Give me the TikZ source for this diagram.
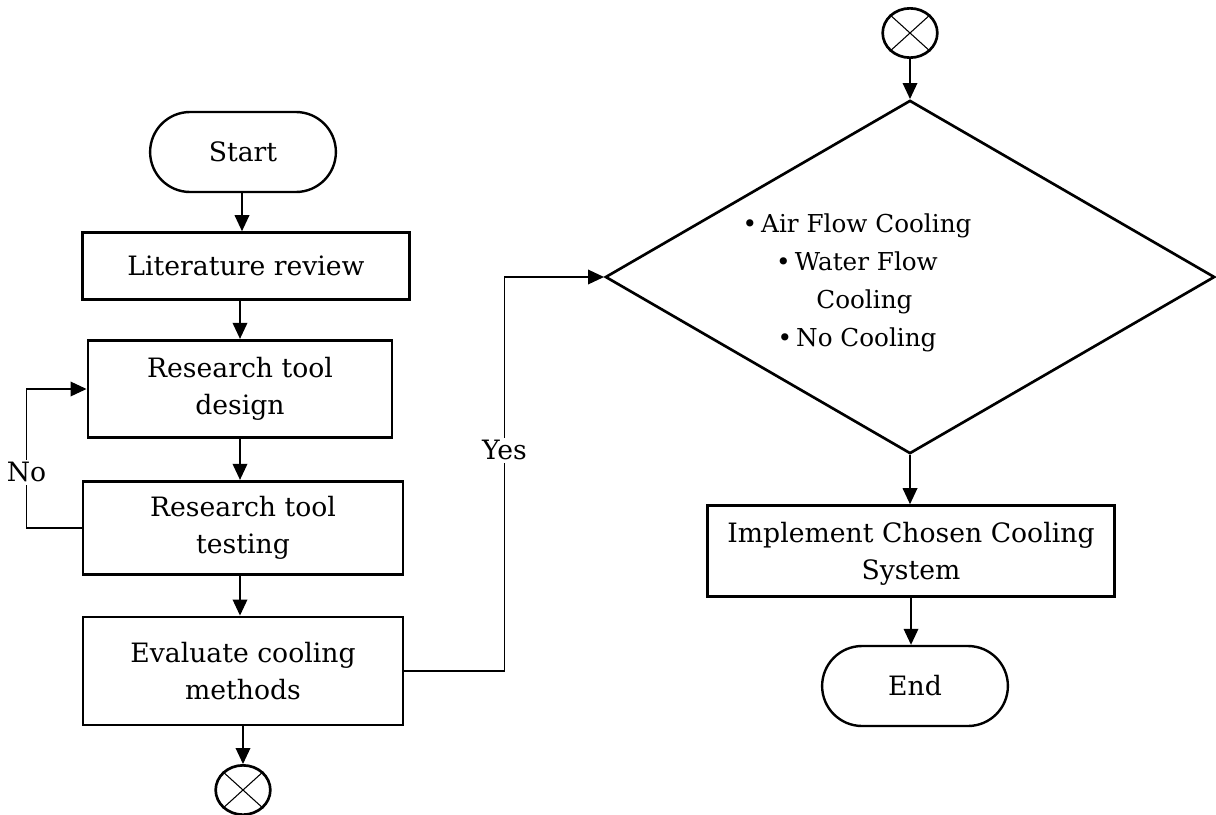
\documentclass[tikz,border=0pt]{standalone}
\usepackage{fontspec}
\setmainfont{DejaVu Serif}
\usetikzlibrary{shapes.geometric,shapes.misc,arrows.meta}
\begin{document}
\begin{tikzpicture}[x=0.75pt, y=-0.75pt,
    every node/.style={font=\fontsize{20}{28}\selectfont},
    box/.style={draw, rectangle, line width=2.2pt, align=center, inner sep=0pt},
    term/.style={draw, rounded rectangle, line width=1.8pt, minimum width=146pt, minimum height=60pt},
    offpage/.style={draw, ellipse, line width=2pt, minimum width=41pt, minimum height=37pt, inner sep=0pt},
    flow/.style={line width=1pt, -{Triangle[length=12pt,width=11pt]}}]
\useasboundingbox (0,0) rectangle (1216,814);

\node[term] (start) at (243,152) {Start};
\node[box, minimum width=245pt, minimum height=50pt] (litrev) at (246,266) {Literature review};
\node[box, minimum width=228pt, minimum height=73pt] (tooldesign) at (240,389) {Research tool\\design};
\node[box, minimum width=240pt, minimum height=70pt] (tooltest) at (243,528) {Research tool\\testing};
\node[box, minimum width=240pt, minimum height=81pt] (evalcool) at (243,671) {Evaluate cooling\\methods};
\node[offpage] (out) at (243,790) {};
\node[offpage] (in) at (910,33) {};
\node[draw, diamond, line width=2pt, minimum width=457pt, minimum height=265pt, inner sep=0pt] (choice) at (910,277) {};
\node[align=center, font=\fontsize{18.5}{28.5}\selectfont] (options) at (857,283) {\textbullet\,Air Flow Cooling\\\textbullet\,Water Flow\\\hspace{0.6em}Cooling\\\textbullet\,No Cooling};
\node[box, minimum width=305pt, minimum height=68pt, text depth=0pt] (implement) at (911,551) {Implement Chosen Cooling\\System};
\node[term] (stop) at (915,686) {End};

% crosses in the off-page connectors
\draw[line width=0.8pt] (out.north west) -- (out.south east) (out.north east) -- (out.south west);
\draw[line width=0.8pt] (in.north west) -- (in.south east) (in.north east) -- (in.south west);

\draw[flow] (start.south -| 242,0) -- (litrev.north -| 242,0);
\draw[flow] (litrev.south -| tooldesign) -- (tooldesign.north);
\draw[flow] (tooldesign.south) -- (tooldesign.south |- tooltest.north);
\draw[flow] (tooltest.south -| tooldesign) -- (evalcool.north -| tooldesign);
\draw[flow] (evalcool) -- (out);
\draw[flow] (tooltest.west) -- ++(-55,0) |- node[pos=0.2, fill=white, inner sep=2pt] {No} (tooldesign.west);
\draw[flow] (evalcool.east) -- ++(100,0) |- node[pos=0.28, fill=white, inner sep=2pt] {Yes} (choice.west);
\draw[flow] (in) -- (choice.north);
\draw[flow] (choice.south) -- (implement.north -| choice.south);
\draw[flow] (implement.south) -- (implement.south |- stop.north);
\end{tikzpicture}
\end{document}
